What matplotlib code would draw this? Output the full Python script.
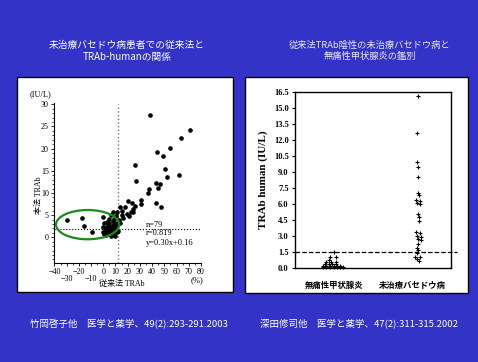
import numpy as np
import matplotlib
matplotlib.use("Agg")
from matplotlib import pyplot as plt
from matplotlib.patches import Rectangle, Ellipse

# ---- data: left panel (従来法 TRAb vs TRAb-human) ----
conv_trab = [38.5, 70.7, 63.5, 54.8, 43.6, 48.5, 26.0, 50.7, 51.8, 61.9,
             26.7, 43.0, 46.5, 44.5, 37.4, 36.5, 43.1, 46.9, 30.8, 30.8,
             23.2, 20.4, 25.9, 24.5, 22.6, 17.7, 13.7, 19.1, 15.0, 16.4,
             8.2, 6.0, 10.4, 0.0, 4.9, 7.7, 2.8, 10.9, 4.1, 7.1,
             0.0, 9.6, 2.2, 5.4, 8.2, 0.0, 3.0, 6.3, 10.9, 0.6,
             4.2, -30.0, -17.0, -16.0, -9.0, 21.3, 24.5, 15.5, 1.5, 3.5,
             5.5, 7.5, 9.0, 2.0, 6.8, 8.8, 11.5, 12.5, 14.0, 12.0,
             1.0, 4.5, 6.0, 3.2, 8.5, 11.0, 5.0, 9.5, 2.5]
human_trab = [27.6, 24.1, 22.3, 20.1, 19.2, 18.4, 16.3, 15.5, 13.6, 14.0,
              12.8, 12.3, 12.0, 11.1, 10.9, 10.0, 7.8, 6.9, 8.5, 7.5,
              7.8, 8.3, 7.0, 6.3, 5.8, 6.9, 6.8, 5.3, 5.0, 4.3,
              5.8, 5.0, 4.8, 4.5, 4.1, 3.7, 3.5, 3.3, 2.8, 2.6,
              2.4, 2.2, 1.8, 1.7, 1.3, 1.3, 1.0, 1.1, 1.1, 0.7,
              0.8, 4.0, 4.3, 2.5, 1.1, 4.7, 5.6, 6.0, 2.0, 1.5,
              2.2, 1.8, 3.0, 0.5, 0.6, 0.9, 2.8, 3.8, 3.2, 1.5,
              3.2, 3.3, 0.3, 2.4, 4.2, 5.6, 2.0, 0.4, 1.2]
stats_text = ["n=79", "r=0.819", "y=0.30x+0.16"]

# ---- data: right panel (TRAb-human by group) ----
categories = ["無痛性甲状腺炎", "未治療バセドウ病"]
g1_x = [1.00, 0.95, 1.02, 0.93,
        0.90, 0.96, 1.02,
        0.88, 0.93, 0.98, 1.03,
        0.86, 0.90, 0.95, 1.00, 1.04, 1.08,
        0.86, 0.90, 0.95, 1.00, 1.04, 1.08, 1.12]
g1_y = [1.55, 1.03, 1.03, 0.75,
        0.55, 0.55, 0.55,
        0.40, 0.40, 0.40, 0.40,
        0.25, 0.25, 0.25, 0.25, 0.25, 0.25,
        0.10, 0.10, 0.10, 0.10, 0.10, 0.10, 0.10]
g2_x = [2.08, 2.07, 2.07, 2.08, 2.08, 2.08, 2.09, 2.05, 2.10, 2.06,
        2.10, 2.08, 2.09, 2.09, 2.05, 2.10, 2.06, 2.11, 2.08, 2.11,
        2.08, 2.06, 2.08, 2.06, 2.04, 2.10, 2.07, 2.09]
g2_y = [16.1, 12.6, 9.9, 9.45, 8.5, 7.05, 6.85, 6.4, 6.3, 6.1,
        6.0, 5.1, 4.8, 4.4, 3.35, 3.3, 3.0, 2.95, 2.7, 2.6,
        2.3, 1.9, 1.7, 1.45, 1.1, 1.05, 0.84, 0.7]
right_yticks = [0.0, 1.5, 3.0, 4.5, 6.0, 7.5, 9.0, 10.5, 12.0, 13.5, 15.0, 16.5]

titles = ["未治療バセドウ病患者での従来法と\nTRAb-humanの関係",
          "従来法TRAb陰性の未治療バセドウ病と\n無痛性甲状腺炎の鑑別"]
refs = ["竹岡啓子他　医学と薬学、49(2):293-291.2003",
        "深田修司他　医学と薬学、47(2):311-315.2002"]

W, H = 478, 362
BLUE = "#3333c8"
SERIF = ["Liberation Serif", "Noto Sans CJK JP"]
SANS = ["Noto Sans CJK JP", "DejaVu Sans"]

plt.rcParams['font.family'] = SERIF
fig = plt.figure(figsize=(W / 100, H / 100), dpi=100, facecolor=BLUE)


def fx(px):
    return px / W


def fy(py):
    return (H - py) / H


# white panels
for x0, x1, y0, y1 in [(17, 233, 77, 292), (245, 468, 77, 293)]:
    fig.add_artist(Rectangle((fx(x0), fy(y1)), fx(x1 - x0), (y1 - y0) / H,
                             transform=fig.transFigure, facecolor="white",
                             edgecolor="black", lw=1, zorder=0))

# titles and references
fig.text(fx(127), fy(51), titles[0], color="white", ha="center", va="center",
         fontsize=7, family=SANS, linespacing=1.25)
fig.text(fx(370), fy(51), titles[1], color="#e8e8f0", ha="center", va="center",
         fontsize=6.7, family=SANS, linespacing=1.25)
fig.text(fx(30), fy(324), refs[0], color="white", ha="left", va="center",
         fontsize=6.8, family=SANS)
fig.text(fx(260), fy(324), refs[1], color="white", ha="left", va="center",
         fontsize=6.8, family=SANS)

# ---------------- left: scatter ----------------
ax1 = fig.add_axes([fx(54.4), fy(262.6), fx(201 - 54.4), (262.6 - 103.4) / H])
ax1.set_facecolor("white")
ax1.scatter(conv_trab, human_trab, s=11, color="black", zorder=3, linewidths=0)
ax1.set_xlim(-40, 80)
ax1.set_ylim(-5.7, 30.2)
for s in ["top", "right"]:
    ax1.spines[s].set_visible(False)
ax1.spines["left"].set_linewidth(0.8)
ax1.spines["bottom"].set_linewidth(0.8)
ax1.axvline(12, color="#777777", ls=":", lw=1.0, ymax=(30 + 5.7) / 35.9)
ax1.axhline(1.8, color="black", ls=":", lw=0.8)
ax1.add_patch(Ellipse((-12.8, 2.86), 51.8, 6.6, fill=False, edgecolor="#1a8c1a",
                      lw=1.6, zorder=4))

ax1.set_yticks(range(0, 31, 5))
ax1.set_yticks(range(-5, 31), minor=True)
xt = list(range(-40, 81, 10))
xl = [("\n" if v in (-30, -10) else "") + str(v).replace("-", "−") for v in xt]
ax1.set_xticks(xt)
ax1.set_xticklabels(xl, linespacing=0.85)
ax1.set_xticks(range(-40, 81, 5), minor=True)
ax1.tick_params(axis="both", which="major", labelsize=5.8, length=2.5, width=0.6,
                pad=1.5, direction="out")
ax1.tick_params(axis="both", which="minor", length=1.5, width=0.5, direction="out")
for i, t in enumerate(stats_text):
    ax1.text(35, [2.8, 1.05, -1.35][i], t, fontsize=6.0, va="center", ha="left")
ax1.text(-60, 32.3, "(IU/L)", fontsize=6.0, ha="left", va="center", clip_on=False)
ax1.text(77, -9.6, "(%)", fontsize=6.2, ha="center", va="center", clip_on=False)
ax1.text(-53, 9.5, "本法 TRAb", rotation=90, fontsize=5.8, ha="center",
         va="center", clip_on=False)
ax1.text(15, -10.6, "従来法 TRAb", fontsize=5.8, ha="center", va="center",
         clip_on=False)

# ---------------- right: dot plot ----------------
ax2 = fig.add_axes([fx(295), fy(268.3), fx(451 - 295), (268.3 - 91.7) / H])
ax2.set_facecolor("white")
ax2.plot(g1_x, g1_y, "+", color="black", ms=3.5, mew=0.8, clip_on=False)
ax2.plot(g2_x, g2_y, "+", color="black", ms=3.5, mew=0.8, clip_on=False)
ax2.set_xlim(0.5, 2.5)
ax2.set_ylim(0, 16.5)
ax2.plot([0.5, 2.58], [1.5, 1.5], ls="--", color="black", lw=0.9, clip_on=False)
ax2.set_yticks(right_yticks)
ax2.set_yticklabels(["%.1f" % v for v in right_yticks], fontweight="bold")
ax2.set_xticks([1, 2])
ax2.set_xticklabels(categories, family=SANS, fontweight="bold", fontsize=6)
ax2.tick_params(axis="y", labelsize=6, length=2.5, width=0.8, pad=2)
ax2.tick_params(axis="x", length=0, pad=9)
for s in ax2.spines.values():
    s.set_linewidth(1.0)
ax2.set_ylabel("TRAb human (IU/L)", fontsize=8, fontweight="bold", labelpad=4)

fig.savefig("out.png", dpi=100, facecolor=BLUE)
